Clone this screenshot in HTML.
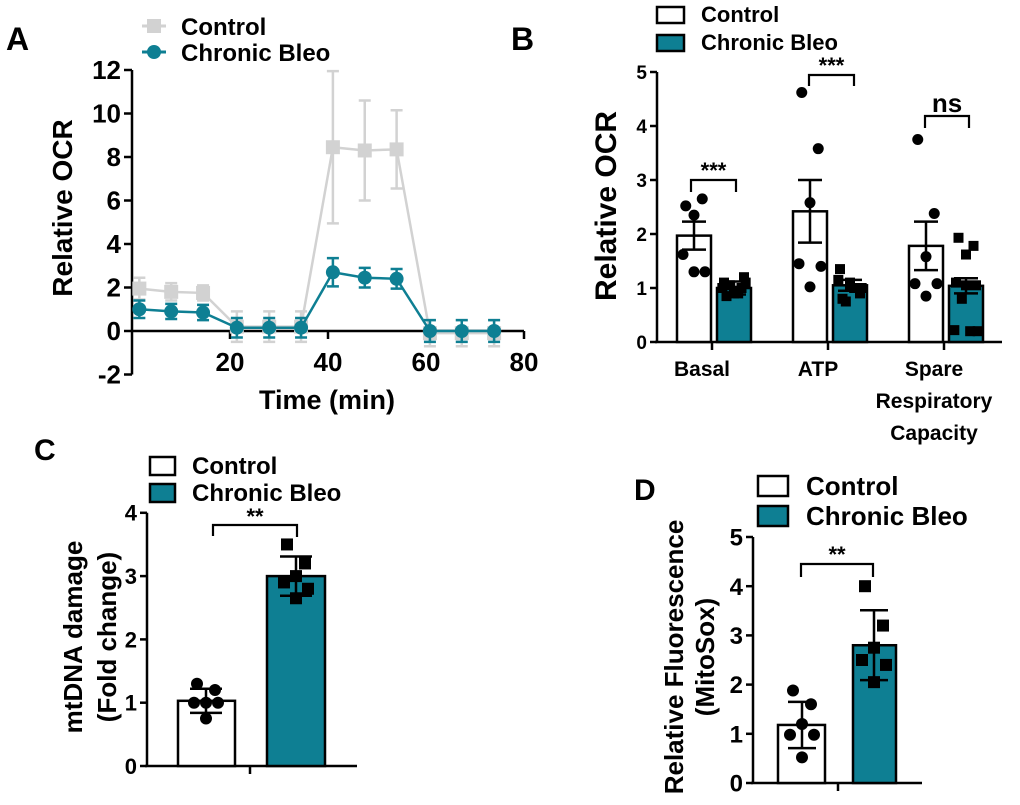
<!DOCTYPE html>
<html><head><meta charset="utf-8"><style>
body{margin:0;background:#fff}
svg{display:block;font-family:"Liberation Sans",Arial,sans-serif}
</style></head><body>
<svg id="fig" width="1020" height="805" viewBox="0 0 1020 805">
<g id="A"></g>
<g id="B"></g>
<g id="C"></g>
<g id="D"></g>
</svg>
<script>
// Panel A data
const aTimes = [1.5, 8, 14.5, 21.4, 28, 34.5, 41, 47.5, 54, 60.8, 67.3, 73.9];
const aControl = [1.95, 1.8, 1.75, 0.2, 0.2, 0.2, 8.45, 8.3, 8.35, -0.1, -0.1, -0.1];
const aControlErr = [0.5, 0.4, 0.35, 0.7, 0.7, 0.7, 3.5, 2.3, 1.8, 0.6, 0.6, 0.6];
const aBleo = [1.0, 0.9, 0.85, 0.15, 0.15, 0.15, 2.7, 2.45, 2.4, 0, 0, 0];
const aBleoErr = [0.4, 0.35, 0.35, 0.45, 0.45, 0.45, 0.65, 0.45, 0.45, 0.5, 0.5, 0.5];
const aYTicks = [-2, 0, 2, 4, 6, 8, 10, 12];
const aXTicks = [20, 40, 60, 80];
// Panel B data
const bCategories = ["Basal", "ATP", "Spare"];
const bControlMean = [1.97, 2.42, 1.78];
const bControlErr = [0.26, 0.58, 0.45];
const bBleoMean = [1.0, 1.05, 1.04];
const bBleoErr = [0.12, 0.1, 0.14];
const bControlPts = [[2.52, 2.65, 2.35, 1.62, 1.3, 1.3], [4.62, 3.58, 2.58, 1.45, 1.4, 1.02], [3.75, 2.38, 1.58, 1.08, 1.08, 0.85]];
const bBleoPts = [[0.85, 1.0, 0.9, 1.1, 1.2, 0.95, 1.05, 0.9, 1.0, 1.1], [0.8, 1.0, 1.1, 1.35, 0.9, 1.05, 0.75, 1.0, 1.15, 1.0], [1.93, 1.78, 1.62, 1.1, 1.05, 1.05, 0.8, 0.2, 0.22, 0.2]];
const bSig = ["***", "***", "ns"];
const bYTicks = [0, 1, 2, 3, 4, 5];
// Panel C data
const cMean = [1.03, 3.0];
const cErr = [0.19, 0.31];
const cControlPts = [1.3, 1.2, 1.0, 1.0, 1.0, 0.75];
const cBleoPts = [3.5, 3.2, 3.0, 2.9, 2.8, 2.65];
const cYTicks = [0, 1, 2, 3, 4];
// Panel D data
const dMean = [1.18, 2.8];
const dErr = [0.47, 0.71];
const dControlPts = [1.88, 1.6, 1.2, 0.98, 0.98, 0.52];
const dBleoPts = [4.0, 3.2, 2.75, 2.5, 2.4, 2.05];
const dYTicks = [0, 1, 2, 3, 4, 5];

const TEAL = "#0e7f93", GRAY = "#d2d2d2", NS = "http://www.w3.org/2000/svg";
function el(parent, tag, attrs, text) {
  const e = document.createElementNS(NS, tag);
  for (const k in attrs) e.setAttribute(k, attrs[k]);
  if (text !== undefined) e.textContent = text;
  parent.appendChild(e);
  return e;
}
function named(e, name, inter) {
  
  
  return e;
}
function line(g, x1, y1, x2, y2, stroke, w) {
  return el(g, 'line', {x1, y1, x2, y2, stroke, 'stroke-width': w});
}

// ---------- Panel A ----------
(function () {
  const g = document.getElementById('A');
  const X = t => 132 + t * 4.9;
  const Y = v => 331 - v * 21.75;
  let t = el(g, 'text', {x: 6, y: 50, 'font-size': 32, 'font-weight': 'bold'}, 'A');
  named(t, 'panel-label-a', false);
  let ax = line(g, 132, Y(12), 132, Y(-2), '#000', 2.5);
  named(ax, 'y-axis', false);
  let xx = line(g, 132, Y(0), X(80), Y(0), '#000', 2.5);
  named(xx, 'x-axis', false);
  aYTicks.forEach(v => {
    let tk = line(g, 124, Y(v), 132, Y(v), '#000', 2.5);
    named(tk, 'y-tick', false);
    let lb = el(g, 'text', {x: 121, y: Y(v) + 9, 'font-size': 26, 'font-weight': 'bold', 'text-anchor': 'end'}, v);
    named(lb, 'y-tick-label', false);
  });
  aXTicks.forEach(v => {
    let tk = line(g, X(v), Y(0), X(v), Y(0) + 8, '#000', 2.5);
    named(tk, 'x-tick', false);
    let lb = el(g, 'text', {x: X(v), y: 371, 'font-size': 26, 'font-weight': 'bold', 'text-anchor': 'middle'}, v);
    named(lb, 'x-tick-label', false);
  });
  let xt = el(g, 'text', {x: 327, y: 409, 'font-size': 27, 'font-weight': 'bold', 'text-anchor': 'middle'}, 'Time (min)');
  named(xt, 'x-axis-title', false);
  let yt = el(g, 'text', {x: 0, y: 0, 'font-size': 28, 'font-weight': 'bold', 'text-anchor': 'middle', transform: 'translate(72,208) rotate(-90)'}, 'Relative OCR');
  named(yt, 'y-axis-title', false);
  function series(vals, errs, color, square, name) {
    const sg = el(g, 'g', {});
    named(sg, name, false);
    const pts = aTimes.map((tt, i) => X(tt) + ',' + Y(vals[i])).join(' ');
    let pl = el(sg, 'polyline', {points: pts, fill: 'none', stroke: color, 'stroke-width': 2.5});
    named(pl, name + '-line', false);
    aTimes.forEach((tt, i) => {
      const x = X(tt), y1 = Y(vals[i] + errs[i]), y2 = Y(vals[i] - errs[i]);
      let eb = el(sg, 'path', {d: `M${x-6},${y1}H${x+6}M${x},${y1}V${y2}M${x-6},${y2}H${x+6}`, stroke: color, 'stroke-width': 2.5, fill: 'none'});
      named(eb, name + '-error-bar', false);
      let m = square ? el(sg, 'rect', {x: x - 7, y: Y(vals[i]) - 7, width: 14, height: 14, fill: color})
                     : el(sg, 'circle', {cx: x, cy: Y(vals[i]), r: 7, fill: color});
      named(m, name + '-point', false);
    });
  }
  series(aControl, aControlErr, GRAY, true, 'control-series');
  series(aBleo, aBleoErr, TEAL, false, 'bleo-series');
  let l1 = el(g, 'g', {}); named(l1, 'legend-entry-control', false);
  line(l1, 142, 26, 166, 26, GRAY, 3); el(l1, 'rect', {x: 147, y: 19, width: 14, height: 14, fill: GRAY});
  el(l1, 'text', {x: 181, y: 35, 'font-size': 24, 'font-weight': 'bold'}, 'Control');
  let l2 = el(g, 'g', {}); named(l2, 'legend-entry-bleo', false);
  line(l2, 142, 52, 166, 52, TEAL, 3); el(l2, 'circle', {cx: 154, cy: 52, r: 7, fill: TEAL});
  el(l2, 'text', {x: 181, y: 61, 'font-size': 24, 'font-weight': 'bold'}, 'Chronic Bleo');
})();

function bar(g, x, w, y0, yTop, fill, name) {
  let r = el(g, 'rect', {x, y: yTop, width: w, height: y0 - yTop, fill, stroke: '#000', 'stroke-width': 2.5});
  named(r, name, false);
}
function errBar(g, cx, yHi, yLo, yMid, hw, name) {
  let e = el(g, 'path', {d: `M${cx-hw},${yHi}H${cx+hw}M${cx},${yHi}V${yLo}M${cx-hw},${yLo}H${cx+hw}`, stroke: '#000', 'stroke-width': 2.5, fill: 'none'});
  named(e, name, false);
}
const JIT = [-9, 9, 0, -12, 12, 0, -5, 5, -14, 14];
function points(g, cx, vals, Y, square, size, name) {
  vals.forEach((v, i) => {
    const x = cx + JIT[i % JIT.length] * size / 6;
    let m = square ? el(g, 'rect', {x: x - size, y: Y(v) - size, width: 2 * size, height: 2 * size, fill: '#000'})
                   : el(g, 'circle', {cx: x, cy: Y(v), r: size, fill: '#000'});
    named(m, name, false);
  });
}
function bracket(g, x1, x2, yTop, legL, legR, label, ty, fs, name) {
  const bg = el(g, 'g', {}); named(bg, name, false);
  el(bg, 'path', {d: `M${x1},${legL}V${yTop}H${x2}V${legR}`, fill: 'none', stroke: '#000', 'stroke-width': 2.2});
  el(bg, 'text', {x: (x1 + x2) / 2, y: ty, 'font-size': fs, 'font-weight': 'bold', 'text-anchor': 'middle'}, label);
}
function legend(g, x, y1, y2, bw, bh, tx, fs) {
  let a = el(g, 'g', {}); named(a, 'legend-entry-control', false);
  el(a, 'rect', {x, y: y1, width: bw, height: bh, fill: '#fff', stroke: '#000', 'stroke-width': 2.5});
  el(a, 'text', {x: tx, y: y1 + bh - 1, 'font-size': fs, 'font-weight': 'bold'}, 'Control');
  let b = el(g, 'g', {}); named(b, 'legend-entry-bleo', false);
  el(b, 'rect', {x, y: y2, width: bw, height: bh, fill: TEAL, stroke: '#000', 'stroke-width': 2.5});
  el(b, 'text', {x: tx, y: y2 + bh - 1, 'font-size': fs, 'font-weight': 'bold'}, 'Chronic Bleo');
}
function yAxis(g, x, Y, ticks, fs, x2) {
  let a = line(g, x, Y(ticks[ticks.length - 1]), x, Y(0), '#000', 2.5); named(a, 'y-axis', false);
  let b = line(g, x - 2, Y(0), x2, Y(0), '#000', 2.5); named(b, 'x-axis', false);
  ticks.forEach(v => {
    let tk = line(g, x - 7, Y(v), x, Y(v), '#000', 2.5); named(tk, 'y-tick', false);
    let lb = el(g, 'text', {x: x - 10, y: Y(v) + fs * 0.36, 'font-size': fs, 'font-weight': 'bold', 'text-anchor': 'end'}, v);
    named(lb, 'y-tick-label', false);
  });
}

// ---------- Panel B ----------
(function () {
  const g = document.getElementById('B');
  const Y = v => 342 - v * 54;
  let t = el(g, 'text', {x: 511, y: 50, 'font-size': 32, 'font-weight': 'bold'}, 'B');
  named(t, 'panel-label-b', false);
  legend(g, 657, 7, 35, 27, 16, 701, 22);
  yAxis(g, 657, Y, bYTicks, 19, 1002);
  let yt = el(g, 'text', {x: 0, y: 0, 'font-size': 30, 'font-weight': 'bold', 'text-anchor': 'middle', transform: 'translate(616,206) rotate(-90)'}, 'Relative OCR');
  named(yt, 'y-axis-title', false);
  const groupC = [712, 828, 944];
  const labels = [["Basal"], ["ATP"], ["Spare", "Respiratory", "Capacity"]];
  bCategories.forEach((c, i) => {
    const gc = groupC[i], cc = gc - 18, bc = gc + 22;
    let tk = line(g, gc, 342, gc, 350, '#000', 2.5); named(tk, 'x-tick', false);
    bar(g, cc - 17, 34, 342, Y(bControlMean[i]), '#fff', 'bar-control-' + c.toLowerCase());
    bar(g, bc - 17, 34, 342, Y(bBleoMean[i]), TEAL, 'bar-bleo-' + c.toLowerCase());
    points(g, cc, bControlPts[i], Y, false, 5.5, 'control-point');
    points(g, bc, bBleoPts[i], Y, true, 5, 'bleo-point');
    errBar(g, cc, Y(bControlMean[i] + bControlErr[i]), Y(bControlMean[i] - bControlErr[i]), 0, 12, 'control-error-bar');
    errBar(g, bc, Y(bBleoMean[i] + bBleoErr[i]), Y(bBleoMean[i] - bBleoErr[i]), 0, 12, 'bleo-error-bar');
    labels[i].forEach((s, j) => {
      let lb = el(g, 'text', {x: gc - 10, y: 376 + j * 32, 'font-size': 21, 'font-weight': 'bold', 'text-anchor': 'middle'}, s);
      named(lb, 'x-category-label', false);
    });
  });
  bracket(g, 691, 736, 180, 192, 192, bSig[0], 178, 22, 'significance-basal');
  bracket(g, 809, 854, 75, 86, 86, bSig[1], 73, 22, 'significance-atp');
  bracket(g, 925, 969, 116, 128, 128, bSig[2], 112, 26, 'significance-spare');
})();

// ---------- Panel C ----------
(function () {
  const g = document.getElementById('C');
  const Y = v => 766 - v * 63.3;
  let t = el(g, 'text', {x: 34, y: 460, 'font-size': 30, 'font-weight': 'bold'}, 'C');
  named(t, 'panel-label-c', false);
  legend(g, 150, 457, 484, 25, 18, 192, 24);
  yAxis(g, 147, Y, cYTicks, 22, 357);
  let tk = line(g, 250, 766, 250, 774, '#000', 2.5); named(tk, 'x-tick', false);
  bar(g, 178, 57, 766, Y(cMean[0]), '#fff', 'bar-control');
  bar(g, 267, 58, 766, Y(cMean[1]), TEAL, 'bar-bleo');
  points(g, 206, cControlPts, Y, false, 6, 'control-point');
  points(g, 296, cBleoPts, Y, true, 6, 'bleo-point');
  errBar(g, 206, Y(cMean[0] + cErr[0]), Y(cMean[0] - cErr[0]), 0, 16, 'control-error-bar');
  errBar(g, 296, Y(cMean[1] + cErr[1]), Y(cMean[1] - cErr[1]), 0, 16, 'bleo-error-bar');
  bracket(g, 213, 297, 525, 536, 537, '**', 524, 22, 'significance-c');
  let y1 = el(g, 'text', {x: 0, y: 0, 'font-size': 26, 'font-weight': 'bold', 'text-anchor': 'middle', transform: 'translate(82,637) rotate(-90)'}, 'mtDNA damage');
  named(y1, 'y-axis-title', false);
  let y2 = el(g, 'text', {x: 0, y: 0, 'font-size': 26, 'font-weight': 'bold', 'text-anchor': 'middle', transform: 'translate(116,637) rotate(-90)'}, '(Fold change)');
  named(y2, 'y-axis-subtitle', false);
})();

// ---------- Panel D ----------
(function () {
  const g = document.getElementById('D');
  const Y = v => 783 - v * 49.2;
  let t = el(g, 'text', {x: 634, y: 500, 'font-size': 30, 'font-weight': 'bold'}, 'D');
  named(t, 'panel-label-d', false);
  legend(g, 758, 476, 506, 30, 20, 806, 26);
  yAxis(g, 753, Y, dYTicks, 24, 922);
  let tk = line(g, 838, 783, 838, 791, '#000', 2.5); named(tk, 'x-tick', false);
  bar(g, 778, 47, 783, Y(dMean[0]), '#fff', 'bar-control');
  bar(g, 853, 43, 783, Y(dMean[1]), TEAL, 'bar-bleo');
  points(g, 802, dControlPts, Y, false, 6, 'control-point');
  points(g, 874, dBleoPts, Y, true, 6, 'bleo-point');
  errBar(g, 802, Y(dMean[0] + dErr[0]), Y(dMean[0] - dErr[0]), 0, 14, 'control-error-bar');
  errBar(g, 874, Y(dMean[1] + dErr[1]), Y(dMean[1] - dErr[1]), 0, 14, 'bleo-error-bar');
  bracket(g, 801, 873, 564, 577, 577, '**', 562, 22, 'significance-d');
  let y1 = el(g, 'text', {x: 0, y: 0, 'font-size': 26, 'font-weight': 'bold', 'text-anchor': 'middle', transform: 'translate(683,657) rotate(-90)'}, 'Relative Fluorescence');
  named(y1, 'y-axis-title', false);
  let y2 = el(g, 'text', {x: 0, y: 0, 'font-size': 26, 'font-weight': 'bold', 'text-anchor': 'middle', transform: 'translate(714,657) rotate(-90)'}, '(MitoSox)');
  named(y2, 'y-axis-subtitle', false);
})();
</script>
</body></html>
